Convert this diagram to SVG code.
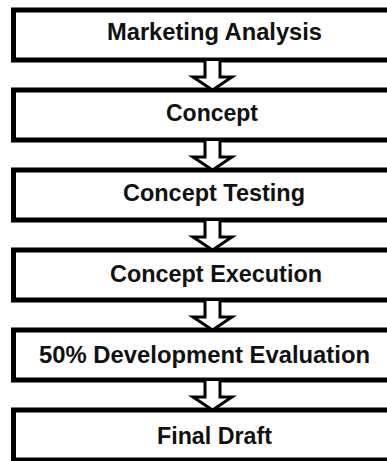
<svg xmlns="http://www.w3.org/2000/svg" width="387" height="461" viewBox="0 0 387 461">
<style>
.box{fill:#fff;stroke:#000;stroke-width:5}
.lbl{font-family:"Liberation Sans",Arial,Helvetica,sans-serif;font-weight:bold;font-size:23px;fill:#111;text-anchor:middle}
.arr{fill:#fff;stroke:#000;stroke-width:3;stroke-linejoin:miter}
</style>
<defs>
<path id="blockArrow" class="arr" d="M205,0 V16 H193 L212.5,29 L232,16 H220 V0"/>
</defs>
<rect width="387" height="461" fill="#fff"/>
<g id="n1"><rect class="box" x="13.5" y="10" width="380" height="50"/><text class="lbl" x="214.5" y="40" textLength="215" lengthAdjust="spacingAndGlyphs">Marketing Analysis</text></g>
<g id="n2"><rect class="box" x="13.5" y="90" width="380" height="50"/><text class="lbl" x="212" y="121" textLength="92" lengthAdjust="spacingAndGlyphs">Concept</text></g>
<g id="n3"><rect class="box" x="13.5" y="170" width="380" height="50"/><text class="lbl" x="214" y="201" textLength="182" lengthAdjust="spacingAndGlyphs">Concept Testing</text></g>
<g id="n4"><rect class="box" x="13.5" y="250" width="380" height="50"/><text class="lbl" x="216" y="282" textLength="212" lengthAdjust="spacingAndGlyphs">Concept Execution</text></g>
<g id="n5"><rect class="box" x="13.5" y="330" width="380" height="50"/><text class="lbl" x="204.5" y="363" textLength="331" lengthAdjust="spacingAndGlyphs">50% Development Evaluation</text></g>
<g id="n6"><rect class="box" x="13.5" y="410" width="380" height="50"/><text class="lbl" x="214.5" y="444" textLength="115" lengthAdjust="spacingAndGlyphs">Final Draft</text></g>
<g id="connectors">
<use href="#blockArrow" y="61"/>
<use href="#blockArrow" y="141"/>
<use href="#blockArrow" y="221"/>
<use href="#blockArrow" y="301"/>
<use href="#blockArrow" y="381"/>
</g>
</svg>
